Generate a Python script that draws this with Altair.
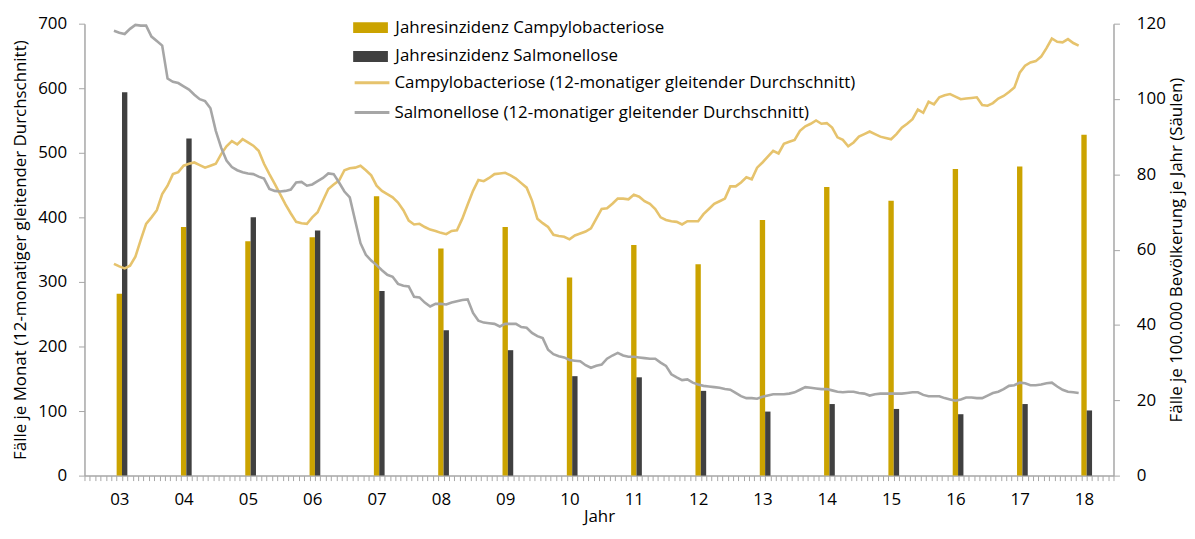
import json
import altair as alt
import pandas as pd

# ---------------- data ----------------
years = ["03", "04", "05", "06", "07", "08", "09", "10",
         "11", "12", "13", "14", "15", "16", "17", "18"]

# Jahresinzidenz (Fälle je 100.000 Bevölkerung, right axis)
bar_campy = [48.3, 66.0, 62.2, 63.3, 74.2, 60.3, 66.0, 52.6,
             61.2, 56.1, 67.9, 76.6, 73.0, 81.4, 82.1, 90.5]
bar_salm = [101.8, 89.5, 68.6, 65.1, 49.0, 38.6, 33.3, 26.4,
            26.1, 22.5, 17.0, 19.0, 17.7, 16.3, 19.0, 17.3]

# first monthly value: month index 5 (June 2003) counted from Jan 2003
first_month = 5

# 12-monthly moving averages (Fälle je Monat, left axis), June 2003 .. June 2018
campy_ma = [
    328, 324, 321, 325, 339, 365, 390, 400, 411, 436, 449, 467, 470, 480, 483, 485,
    481, 477, 480, 483, 498, 510, 518, 513, 521, 516, 511, 503, 483, 467, 452, 436,
    420, 406, 393, 391, 390, 400, 408, 426, 444, 451, 457, 473, 476, 477, 480, 473,
    465, 449, 441, 436, 431, 423, 411, 395, 389, 390, 385, 381, 379, 376, 374, 379,
    380, 398, 420, 441, 458, 456, 461, 467, 468, 469, 465, 460, 453, 446, 426, 398,
    391, 385, 373, 371, 370, 366, 372, 375, 378, 383, 398, 413, 414, 421, 429, 429,
    428, 435, 432, 425, 421, 413, 400, 396, 394, 393, 389, 394, 394, 394, 405, 413,
    421, 425, 429, 448, 448, 454, 462, 459, 477, 485, 494, 503, 499, 514, 517, 520,
    534, 541, 545, 550, 545, 546, 539, 524, 520, 510, 516, 525, 529, 533, 529, 525,
    523, 521, 529, 539, 545, 552, 567, 562, 579, 575, 586, 589, 591, 587, 583, 584,
    585, 586, 574, 573, 577, 584, 588, 594, 601, 624, 635, 640, 642, 649, 662, 677,
    672, 671, 676, 670, 666,
]
salm_ma = [
    689, 686, 684, 692, 698, 697, 697, 680, 673, 666, 615, 610, 608, 603, 598, 590,
    583, 580, 569, 534, 508, 488, 478, 473, 470, 468, 467, 463, 460, 444, 441, 440,
    441, 443, 454, 455, 449, 451, 456, 461, 468, 467, 454, 440, 431, 395, 360, 342,
    333, 326, 318, 311, 308, 297, 294, 293, 277, 276, 268, 262, 266, 266, 265, 268,
    270, 272, 273, 252, 240, 237, 236, 235, 231, 235, 235, 235, 230, 229, 221, 216,
    213, 195, 188, 185, 183, 179, 178, 177, 171, 167, 170, 172, 181, 186, 190, 186,
    184, 184, 183, 182, 181, 181, 175, 170, 157, 152, 148, 149, 144, 141, 139, 138,
    137, 136, 134, 133, 128, 123, 120, 120, 119, 122, 124, 126, 126, 126, 127, 129,
    133, 137, 136, 135, 134, 134, 132, 130, 129, 130, 130, 128, 127, 124, 126, 127,
    127, 127, 127, 127, 128, 129, 129, 125, 123, 123, 123, 120, 118, 116, 118, 121,
    121, 120, 120, 124, 128, 130, 134, 139, 140, 144, 143, 140, 140, 141, 143, 144,
    138, 133, 130, 129, 128,
]

NAME_BC = "Jahresinzidenz Campylobacteriose"
NAME_BS = "Jahresinzidenz Salmonellose"
NAME_LC = "Campylobacteriose (12-monatiger gleitender Durchschnitt)"
NAME_LS = "Salmonellose (12-monatiger gleitender Durchschnitt)"

# ---------------- styles ----------------
C_BAR_CAMPY = "#cba300"
C_BAR_SALM = "#404040"
C_LINE_CAMPY = "#e6c36d"
C_LINE_SALM = "#a6a6a6"
AX = "#a6a6a6"
FONT = "Open Sans"
FS = 17
N_MONTHS = 12 * len(years)

# ---------------- tables ----------------
bar_rows = []
for k, yr in enumerate(years):
    bar_rows.append({"start": 12 * k + 6, "end": 12 * k + 7, "v": bar_campy[k], "series": NAME_BC})
    bar_rows.append({"start": 12 * k + 7, "end": 12 * k + 8, "v": bar_salm[k], "series": NAME_BS})
bars_df = pd.DataFrame(bar_rows)

campy_df = pd.DataFrame({
    "m": [first_month + j + 0.5 for j in range(len(campy_ma))],
    "v": campy_ma,
    "series": NAME_LC,
})
salm_df = pd.DataFrame({
    "m": [first_month + j + 0.5 for j in range(len(salm_ma))],
    "v": salm_ma,
    "series": NAME_LS,
})

label_expr = ("datum.value % 12 == 6 ? " + json.dumps(years) +
              "[floor(datum.value / 12)] : ''")

x_scale = alt.Scale(domain=[0, N_MONTHS], nice=False, zero=False)
x_axis = alt.Axis(
    values=list(range(0, N_MONTHS + 1)), labelExpr=label_expr, labelOffset=2.7,
    labelOverlap=False, labelFlush=False, tickSize=5, tickColor=AX, tickWidth=1,
    domainColor=AX, domainWidth=1.5, labelPadding=11, grid=False,
    title="Jahr", titlePadding=1,
)

left_axis = alt.Axis(
    orient="left", values=list(range(0, 701, 100)), tickSize=6, tickColor=AX,
    domainColor=AX, domainWidth=1.5, labelPadding=12, grid=False,
    title="Fälle je Monat (12-monatiger gleitender Durchschnitt)", titlePadding=8,
)
right_axis = alt.Axis(
    orient="right", values=list(range(0, 121, 20)), tickSize=6, tickColor=AX,
    domainColor=AX, domainWidth=1.5, labelPadding=17, grid=False,
    title="Fälle je 100.000 Bevölkerung je Jahr (Säulen)", titlePadding=3,
    titleAngle=270, titleBaseline="top",
)

S = 22  # legend symbol box
bar_path = "M-1.59,-0.5H1.59V0.5H-1.59Z"
line_path = "M-1.59,0H1.59"

bars = alt.Chart(bars_df).mark_bar(opacity=1).encode(
    x=alt.X("start:Q", scale=x_scale, axis=x_axis),
    x2="end:Q",
    y=alt.Y("v:Q", scale=alt.Scale(domain=[0, 120], nice=False), axis=right_axis),
    y2=alt.datum(0),
    color=alt.Color(
        "series:N",
        scale=alt.Scale(domain=[NAME_BC, NAME_BS], range=[C_BAR_CAMPY, C_BAR_SALM]),
        legend=alt.Legend(
            title=None, orient="none", legendX=277, legendY=-7, padding=0,
            symbolType=bar_path, symbolSize=S * S, symbolStrokeWidth=0,
            labelOffset=14, rowPadding=10, labelFontSize=FS, labelFont=FONT,
            labelColor="black", labelLimit=700,
        ),
    ),
)

line_stroke = alt.Stroke(
    "series:N",
    scale=alt.Scale(domain=[NAME_LC, NAME_LS], range=[C_LINE_CAMPY, C_LINE_SALM]),
    legend=alt.Legend(
        title=None, orient="none", legendX=277, legendY=47, padding=0,
        symbolType=line_path, symbolSize=S * S, symbolStrokeWidth=3,
        labelOffset=10, rowPadding=9, labelFontSize=FS, labelFont=FONT,
        labelColor="black", labelLimit=700,
    ),
)

y_left = alt.Y("v:Q", scale=alt.Scale(domain=[0, 700], nice=False), axis=left_axis)

line_campy = alt.Chart(campy_df).mark_line(strokeWidth=2.6).encode(
    x=alt.X("m:Q", scale=x_scale, axis=x_axis), y=y_left, stroke=line_stroke,
)
line_salm = alt.Chart(salm_df).mark_line(strokeWidth=2.6).encode(
    x=alt.X("m:Q", scale=x_scale, axis=x_axis), y=y_left, stroke=line_stroke,
)

lines = alt.layer(line_campy, line_salm)

chart = alt.layer(bars, lines).resolve_scale(y="independent").properties(
    width=1036, height=455,
    autosize=alt.AutoSizeParams(type="none"),
    padding={"left": 77, "top": 14, "right": 74, "bottom": 54},
).configure_view(stroke=None).configure_axis(
    labelFont=FONT, titleFont=FONT, labelFontSize=FS, titleFontSize=FS,
    labelColor="black", titleColor="black", titleFontWeight="normal",
)

chart.save("out.html", embed_options={"renderer": "svg", "actions": False})
